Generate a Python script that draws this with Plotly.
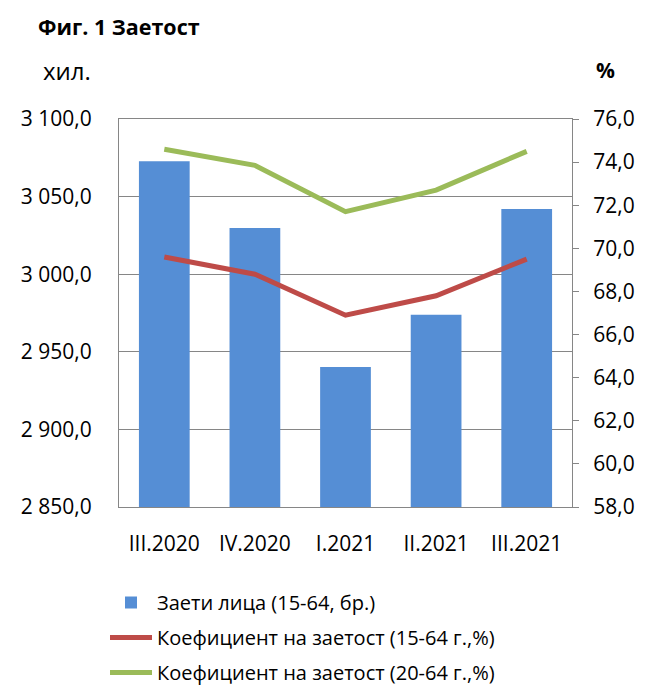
import plotly.graph_objects as go

categories = ["III.2020", "IV.2020", "I.2021", "II.2021", "III.2021"]
employed = [3072.7, 3029.8, 2940.2, 2973.9, 3042.0]
rate_15_64 = [69.6, 68.8, 66.9, 67.8, 69.5]
rate_20_64 = [74.6, 73.85, 71.7, 72.7, 74.5]

names = ["Заети лица (15-64, бр.)",
         "Коефициент на заетост (15-64 г.,%)",
         "Коефициент на заетост (20-64 г.,%)"]

FONT = "Open Sans"
GRID = "#868686"

W, H = 646, 691
l, r, t, b = 119, 74, 119, 184
pw, ph = W - l - r, H - t - b
def px(x):
    return (x - l) / pw
def py(y):
    return (H - b - y) / ph

fig = go.Figure()
fig.add_trace(go.Bar(x=categories, y=employed, name=names[0], legendgroup="a",
                     marker=dict(color="#558ED5", line=dict(width=0)), yaxis="y"))
fig.add_trace(go.Scatter(x=categories, y=rate_15_64, name=names[1], mode="lines",
                         legendgroup="b",
                         line=dict(color="#BE4B48", width=5), yaxis="y2"))
fig.add_trace(go.Scatter(x=categories, y=rate_20_64, name=names[2], mode="lines",
                         legendgroup="c",
                         line=dict(color="#9BBB59", width=5), yaxis="y2"))

fig.update_layout(
    width=W, height=H,
    margin=dict(l=l, r=r, t=t, b=b, autoexpand=False),
    paper_bgcolor="white", plot_bgcolor="white",
    separators=", ",
    font=dict(family=FONT, size=21, color="black"),
    bargap=0.44,
    showlegend=True,
    legend=dict(orientation="v", x=px(105), xanchor="left", y=py(583), yanchor="top",
                font=dict(size=20, family=FONT), itemwidth=42, tracegroupgap=6,
                bgcolor="rgba(0,0,0,0)"),
    xaxis=dict(showline=True, linecolor=GRID, linewidth=1, mirror=True,
               ticks="", showgrid=False, tickfont=dict(size=21),
               ticklabelstandoff=18),
    yaxis=dict(range=[2850, 3100], dtick=50, tickformat=",.1f",
               showline=True, linecolor=GRID, linewidth=1,
               showgrid=True, gridcolor=GRID, gridwidth=1, ticks="",
               zeroline=False, tickfont=dict(size=21), ticklabelstandoff=22),
    yaxis2=dict(range=[58, 76], dtick=2, tickformat=".1f", overlaying="y", side="right",
                showline=True, linecolor=GRID, linewidth=1, showgrid=False,
                ticks="outside", ticklen=6, tickcolor=GRID, zeroline=False,
                tickfont=dict(size=21), ticklabelstandoff=10),
    annotations=[
        dict(text="<b>Фиг. 1 Заетост</b>", x=px(36), y=py(27), xref="paper", yref="paper",
             xanchor="left", yanchor="middle", showarrow=False, font=dict(size=21.5)),
        dict(text="хил.", x=px(41), y=py(70), xref="paper", yref="paper",
             xanchor="left", yanchor="middle", showarrow=False, font=dict(size=24)),
        dict(text="<b>%</b>", x=px(594), y=py(70), xref="paper", yref="paper",
             xanchor="left", yanchor="middle", showarrow=False, font=dict(size=21)),
    ],
)

fig.write_html("out.html")
